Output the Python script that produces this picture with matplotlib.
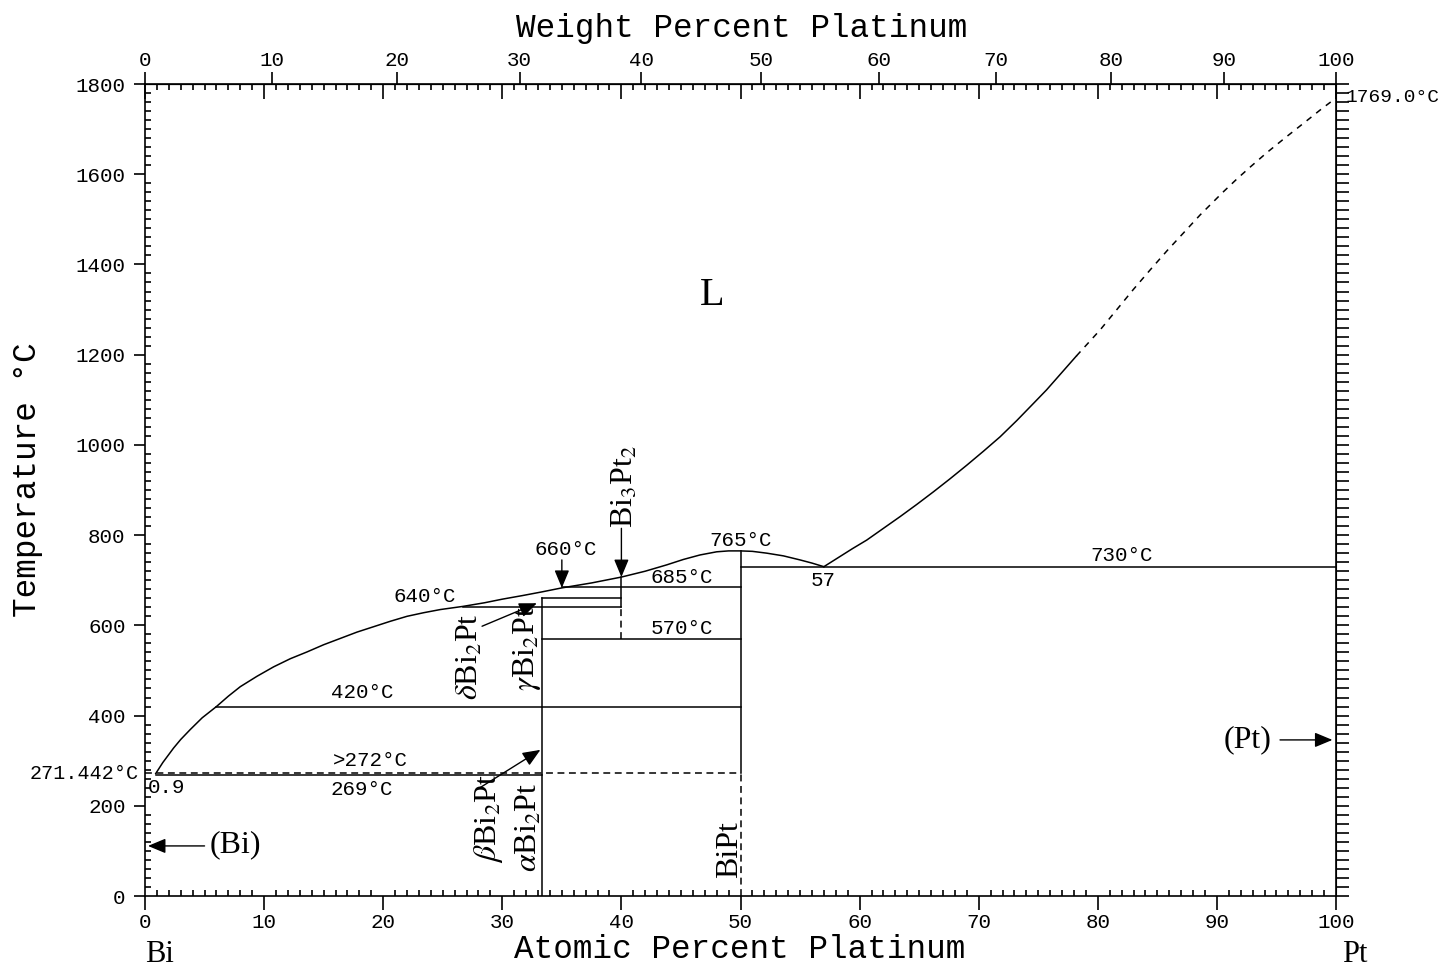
import numpy as np
import matplotlib
matplotlib.use("Agg")
import matplotlib.pyplot as plt

plt.rcParams['mathtext.fontset'] = 'stix'

MONO = 'Liberation Mono'
SERIF = 'Liberation Serif'

# atomic masses for the weight percent scale
M_PT = 195.08
M_BI = 208.98

# liquidus, Bi side up to the 57 at.% eutectic (at.% Pt, deg C)
liq_bi_x = [0.9, 1.5, 2.4, 3.0, 3.8, 4.8, 6.0, 7.0, 8.0, 9.4, 10.8, 12.2,
            13.6, 15.0, 16.4, 17.8, 19.2, 20.6, 22.0, 23.4, 24.8, 26.7,
            28.5, 30.0, 31.7, 33.3, 35.0, 37.5, 40.0, 42.0, 43.8, 45.2,
            46.6, 48.0, 49.0, 50.0, 51.0, 52.2, 53.6, 55.0, 56.0, 57.0]
liq_bi_T = [271.442, 296, 328, 347, 369, 395, 420, 443, 464, 487, 508, 526,
            541, 557, 571, 585, 597, 609, 620, 628, 635, 642,
            650, 658, 666, 674, 683, 694, 707, 720, 734, 746,
            756, 763, 765, 765, 764, 760, 754, 745, 738, 730]

# liquidus, Pt side (measured part)
liq_pt_x = [57.0, 58.2, 59.4, 60.6, 62.0, 63.4, 64.8, 66.2, 67.6, 69.0,
            70.4, 71.8, 73.2, 74.6, 75.7, 76.8, 78.2]
liq_pt_T = [730, 750, 770, 789, 815, 841, 868, 896, 925, 955,
            986, 1018, 1054, 1092, 1122, 1155, 1197]

# liquidus, Pt side (estimated part)
liq_pt_est_x = [78.2, 79.2, 80.2, 81.6, 83.0, 84.4, 85.8, 87.2, 88.6, 90.5,
                91.7, 92.8, 94.2, 95.6, 96.7, 97.8, 98.7, 99.6, 100.0]
liq_pt_est_T = [1197, 1226, 1255, 1300, 1345, 1388, 1430, 1470, 1510, 1560,
                1590, 1616, 1648, 1678, 1701, 1724, 1743, 1761, 1769.0]

# invariant lines: (temperature, x from, x to)
isotherms = [(730, 50.0, 100.0), (685, 35.0, 50.0), (660, 33.3, 40.0),
             (640, 26.7, 40.0), (570, 33.3, 50.0), (420, 6.0, 50.0),
             (269, 0.9, 33.3)]
isotherms_dashed = [(272, 0.0, 50.0)]

# compound lines: (composition, T from, T to)
compounds = [(33.3, 0, 660), (40.0, 640, 707), (50.0, 272, 765)]
compounds_dashed = [(40.0, 570, 640), (50.0, 0, 272)]

# temperature labels: (text, x, T)
temp_labels = [("640°C", 23.5, 663), ("660°C", 35.3, 767), ("685°C", 45.1, 707),
               ("765°C", 50.0, 789), ("730°C", 82.0, 754), ("57", 56.9, 700),
               ("570°C", 45.1, 594), ("420°C", 18.2, 452), (">272°C", 18.9, 301),
               ("269°C", 18.2, 237), ("0.9", 1.8, 241)]

# rotated phase labels: (text, x, T)
phase_labels = [(r"$\delta$Bi$_2$Pt", 27.3, 530), (r"$\gamma$Bi$_2$Pt", 32.1, 548),
                (r"$\beta$Bi$_2$Pt", 28.8, 173), (r"$\alpha$Bi$_2$Pt", 32.3, 153),
                (r"Bi$_3$Pt$_2$", 40.3, 908), ("BiPt", 49.1, 102)]

# arrows: (from x, from T, to x, to T)
arrows = [(35.0, 745, 35.0, 683), (40.0, 815, 40.0, 707),
          (28.3, 598, 32.9, 649), (28.0, 238, 33.2, 324),
          (5.0, 111, 0.25, 111), (95.3, 346, 99.7, 346)]


def at_to_wt(a):
    a = np.asarray(a, dtype=float)
    with np.errstate(divide='ignore', invalid='ignore'):
        return 100 * a * M_PT / (a * M_PT + (100 - a) * M_BI)


def wt_to_at(w):
    w = np.asarray(w, dtype=float)
    with np.errstate(divide='ignore', invalid='ignore'):
        return 100 * (w / M_PT) / (w / M_PT + (100 - w) / M_BI)


fig = plt.figure(figsize=(14.43, 9.67), dpi=100)
ax = fig.add_axes([145 / 1443, 71 / 967, 1191 / 1443, 812 / 967])
ax.set_xlim(0, 100)
ax.set_ylim(0, 1800)

lw = 1.1
dash = (0, (4.5, 3))

ax.plot(liq_bi_x, liq_bi_T, color='black', lw=lw)
ax.plot(liq_pt_x, liq_pt_T, color='black', lw=lw)
ax.plot(liq_pt_est_x, liq_pt_est_T, color='black', lw=lw, linestyle=(0, (4, 4)))

for T, x0, x1 in isotherms:
    ax.plot([x0, x1], [T, T], color='black', lw=lw)
for T, x0, x1 in isotherms_dashed:
    ax.plot([x0, x1], [T, T], color='black', lw=lw, linestyle=dash)
for x, T0, T1 in compounds:
    ax.plot([x, x], [T0, T1], color='black', lw=lw)
for x, T0, T1 in compounds_dashed:
    ax.plot([x, x], [T0, T1], color='black', lw=lw, linestyle=dash)

for x0, y0, x1, y1 in arrows:
    ax.annotate("", xy=(x1, y1), xytext=(x0, y0),
                arrowprops=dict(arrowstyle='-|>,head_length=0.6,head_width=0.25',
                                color='black', lw=1.0,
                                mutation_scale=18, shrinkA=0, shrinkB=0))

for s, x, T in temp_labels:
    ax.text(x, T, s, family=MONO, fontsize=15, ha='center', va='center')

for s, x, T in phase_labels:
    ax.text(x, T, s, family=SERIF, fontsize=23, rotation=90,
            ha='center', va='center')

ax.text(47.6, 1332, "L", family=SERIF, fontsize=29, ha='center', va='center')
ax.text(7.6, 113, "(Bi)", family=SERIF, fontsize=23, ha='center', va='center')
ax.text(92.6, 346, "(Pt)", family=SERIF, fontsize=23, ha='center', va='center')

# melting points written beside the axes
ax.text(-0.5, 271.442, "271.442°C", family=MONO, fontsize=14.5,
        ha='right', va='center')
ax.text(100.8, 1769.0, "1769.0°C", family=MONO, fontsize=14,
        ha='left', va='center', clip_on=False)

# ticks: bottom and left
ax.set_xticks(np.arange(0, 101, 10))
ax.set_xticks(np.arange(0, 101, 1), minor=True)
ax.set_yticks(np.arange(0, 1801, 200))
ax.set_yticks(np.arange(0, 1801, 20), minor=True)
ax.tick_params(which='both', top=False, right=False, width=1.2)
ax.tick_params(axis='x', which='major', direction='out', length=10, pad=2,
               labelsize=15)
ax.tick_params(axis='y', which='major', direction='out', length=8, pad=6,
               labelsize=15)
ax.tick_params(which='minor', direction='in', length=4)
for lab in ax.get_xticklabels() + ax.get_yticklabels():
    lab.set_family(MONO)
for sp in ax.spines.values():
    sp.set_linewidth(1.2)

# atomic ticks along the top, pointing inward
top_at = ax.secondary_xaxis('top', functions=(lambda x: x, lambda x: x))
top_at.set_xticks(np.arange(0, 101, 10))
top_at.set_xticks(np.arange(0, 101, 1), minor=True)
top_at.tick_params(which='major', direction='in', length=11, width=1.2,
                   labeltop=False)
top_at.tick_params(which='minor', direction='in', length=4, width=1.2)

# weight percent scale along the top
top_wt = ax.secondary_xaxis('top', functions=(at_to_wt, wt_to_at))
top_wt.set_xticks(np.arange(0, 101, 10))
top_wt.set_xticks([], minor=True)
top_wt.tick_params(which='major', direction='out', length=9, width=1.2,
                   pad=1, labelsize=15)
for lab in top_wt.get_xticklabels():
    lab.set_family(MONO)

# right side temperature ticks
right = ax.secondary_yaxis('right')
right.set_yticks(np.arange(0, 1801, 200))
right.set_yticks(np.arange(0, 1801, 20), minor=True)
right.tick_params(which='both', direction='out', length=9, width=1.2,
                  labelright=False)

fig.text(742 / 1443, 1 - 28 / 967, "Weight Percent Platinum", family=MONO,
         fontsize=23.5, ha='center', va='center')
fig.text(740 / 1443, 1 - 950 / 967, "Atomic Percent Platinum", family=MONO,
         fontsize=23.5, ha='center', va='center')
fig.text(28 / 1443, 1 - 480 / 967, "Temperature °C", family=MONO,
         fontsize=23.5, rotation=90, ha='center', va='center')
fig.text(160 / 1443, 1 - 955 / 967, "Bi", family=SERIF, fontsize=22,
         ha='center', va='center')
fig.text(1355 / 1443, 1 - 955 / 967, "Pt", family=SERIF, fontsize=22,
         ha='center', va='center')

fig.savefig("out.png", dpi=100, facecolor='white')
